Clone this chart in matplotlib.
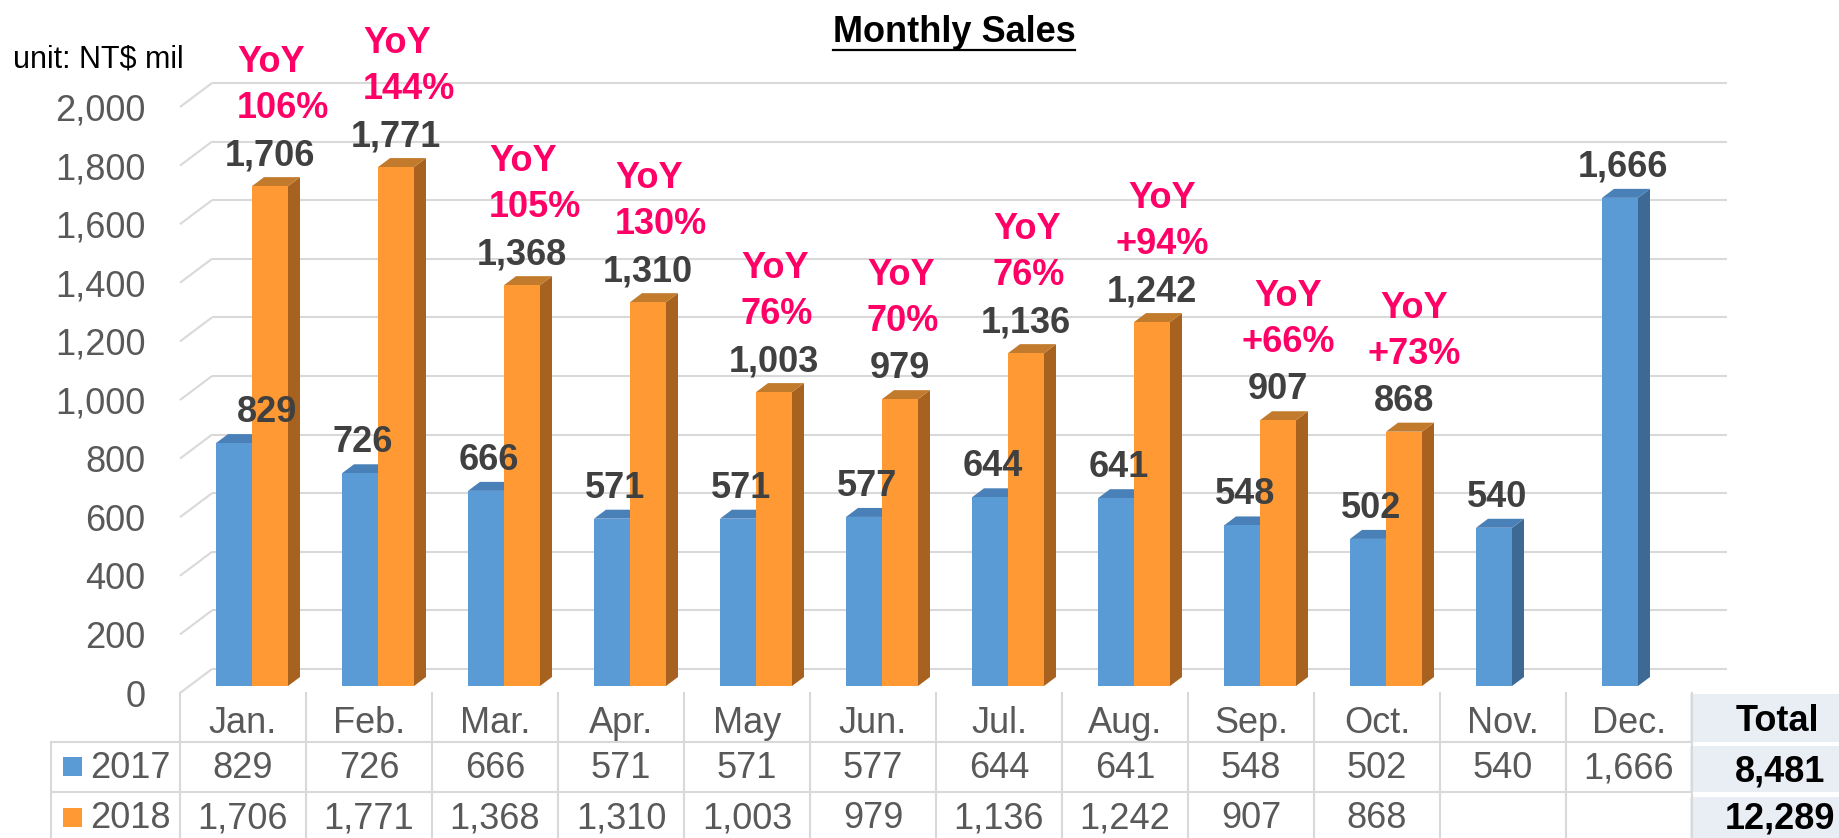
import matplotlib
matplotlib.use('Agg')
import matplotlib.pyplot as plt
import matplotlib.transforms as mtransforms
from matplotlib.patches import Polygon, Rectangle
from matplotlib.lines import Line2D
import numpy as np

plt.rcParams['font.family'] = ['Liberation Sans', 'DejaVu Sans']

# ---------------- data ----------------
months = ['Jan.', 'Feb.', 'Mar.', 'Apr.', 'May', 'Jun.', 'Jul.', 'Aug.', 'Sep.', 'Oct.', 'Nov.', 'Dec.']
sales_2017 = [829, 726, 666, 571, 571, 577, 644, 641, 548, 502, 540, 1666]
sales_2018 = [1706, 1771, 1368, 1310, 1003, 979, 1136, 1242, 907, 868, None, None]
yoy_labels = ['106%', '144%', '105%', '130%', '76%', '70%', '76%', '+94%', '+66%', '+73%', None, None]
series_names = ['2017', '2018']
totals = [8481, 12289]
yticks = list(range(0, 2001, 200))

# ---------------- style ----------------
BLUE = ('#5B9BD5', '#3C6A95', '#4A80B8')     # front, side, top
ORANGE = ('#FF9933', '#A8621F', '#C27A2C')
GRID = '#D9D9D9'
TXT = '#595959'
LBL = '#404040'
PINK = '#FF0066'
TOTAL_BG = '#E9EDF4'

W, H = 1840, 838
fig = plt.figure(figsize=(W / 100, H / 100), dpi=100)

AX_L, AX_R, AX_B, AX_T = 180, 1692, 693, 107
ax = fig.add_axes([AX_L / W, 1 - AX_B / H, (AX_R - AX_L) / W, (AX_B - AX_T) / H])
ax.set_xlim(-0.5, 11.5)
ax.set_ylim(0, 2000)
for s in ax.spines.values():
    s.set_visible(False)
ax.set_xticks([])
ax.set_yticks(yticks)
ax.set_yticklabels([f'{v:,}' for v in yticks])
ax.tick_params(axis='y', length=0, pad=25, labelsize=26, labelcolor=TXT)

px_x = (AX_R - AX_L) / 12.0
px_y = (AX_B - AX_T) / 2000.0
def dx(p):
    return p / px_x
def dy(p):
    return p / px_y

# back wall gridlines + side wall diagonals
DEPTH_X, DEPTH_Y = 32, 24
for v in yticks:
    ax.plot([-0.5, -0.5 + dx(DEPTH_X)], [v, v + dy(DEPTH_Y)], color=GRID, lw=1.5,
            clip_on=False, zorder=1, solid_capstyle='butt')
    ax.plot([-0.5 + dx(DEPTH_X), 11.5 + dx(DEPTH_X + 3)], [v + dy(DEPTH_Y)] * 2, color=GRID,
            lw=1.5, clip_on=False, zorder=1, solid_capstyle='butt')

# bars (3D look)
SHIFT_X, SHIFT_Y = 9, 7
tb = ax.transData + mtransforms.ScaledTranslation(SHIFT_X / 100, SHIFT_Y / 100, fig.dpi_scale_trans)
bw = dx(36)
SIDE_X, SIDE_Y = 12, 9

def draw_3d(xs, vals, colors, z):
    bars = ax.bar(xs, vals, width=bw, align='edge', color=colors[0], zorder=z + 0.2,
                  linewidth=0)
    for p, xl, v in zip(bars, xs, vals):
        p.set_transform(tb)
        p.set_clip_on(False)
        xr = xl + bw
        side = Polygon([(xr, 0), (xr + dx(SIDE_X), dy(SIDE_Y)), (xr + dx(SIDE_X), v + dy(SIDE_Y)), (xr, v)],
                       closed=True, facecolor=colors[1], edgecolor='none', transform=tb,
                       zorder=z, clip_on=False)
        top = Polygon([(xl, v), (xr, v), (xr + dx(SIDE_X), v + dy(SIDE_Y)), (xl + dx(SIDE_X), v + dy(SIDE_Y))],
                      closed=True, facecolor=colors[2], edgecolor='none', transform=tb,
                      zorder=z, clip_on=False)
        ax.add_patch(side)
        ax.add_patch(top)

x = np.arange(len(months))
idx17 = list(range(len(months)))
idx18 = [i for i, v in enumerate(sales_2018) if v is not None]
draw_3d([x[i] - bw for i in idx17], [sales_2017[i] for i in idx17], BLUE, 3)
draw_3d([x[i] for i in idx18], [sales_2018[i] for i in idx18], ORANGE, 4)

# value labels
for i in idx17:
    v = sales_2017[i]
    extra = 33 if i == 0 else 3
    ax.annotate(f'{v:,}', xy=(x[i] - bw / 2, v), xytext=(SHIFT_X + extra, SHIFT_Y + 21),
                textcoords='offset pixels', ha='center', va='baseline', fontsize=26,
                fontweight='bold', color=LBL, zorder=8, annotation_clip=False)
for i in idx18:
    v = sales_2018[i]
    ax.annotate(f'{v:,}', xy=(x[i] + bw / 2, v), xytext=(SHIFT_X, SHIFT_Y + 21),
                textcoords='offset pixels', ha='center', va='baseline', fontsize=26,
                fontweight='bold', color=LBL, zorder=8, annotation_clip=False)
    lab = yoy_labels[i]
    if lab is None:
        continue
    if lab.startswith('+'):
        ha, ox = 'center', SHIFT_X + 10
    else:
        ha, ox = 'left', SHIFT_X - 33
    ax.annotate(lab, xy=(x[i] + bw / 2, v), xytext=(ox, SHIFT_Y + 21 + 47),
                textcoords='offset pixels', ha=ha, va='baseline', fontsize=26,
                fontweight='bold', color=PINK, zorder=8, annotation_clip=False)
    ax.annotate('YoY', xy=(x[i] + bw / 2, v), xytext=(ox, SHIFT_Y + 21 + 93),
                textcoords='offset pixels', ha=ha, va='baseline', fontsize=26,
                fontweight='bold', color=PINK, zorder=8, annotation_clip=False)

# ---------------- data table ----------------
fig_px = mtransforms.Affine2D().scale(1 / W, -1 / H).translate(0, 1) + fig.transFigure
blend = mtransforms.blended_transform_factory(ax.transData, fig_px)

for i in range(len(months) + 1):
    fig.add_artist(Line2D([i - 0.5, i - 0.5], [693, 838], transform=blend, color=GRID, lw=1.5))
for yl in (742, 792):
    fig.add_artist(Line2D([51, 1690], [yl, yl], transform=fig_px, color=GRID, lw=1.5))
fig.add_artist(Line2D([51, 51], [742, 838], transform=fig_px, color=GRID, lw=1.5))

for i, m in enumerate(months):
    fig.text(i, 733, m, transform=blend, ha='center', va='baseline', fontsize=26, color=TXT)
    fig.text(i, 778, f'{sales_2017[i]:,}', transform=blend, ha='center', va='baseline',
             fontsize=26, color=TXT)
    if sales_2018[i] is not None:
        fig.text(i, 828, f'{sales_2018[i]:,}', transform=blend, ha='center', va='baseline',
                 fontsize=26, color=TXT)

# legend keys in table
for (ytop, base), col, name in zip([(757, 778), (808, 828)], [BLUE[0], ORANGE[0]], series_names):
    fig.add_artist(Rectangle((63, ytop), 19, 19, transform=fig_px, facecolor=col, edgecolor='none'))
    fig.text(90, base, name, transform=fig_px, ha='left', va='baseline', fontsize=26, color=TXT)

# Total column
for (y0, h) in [(694, 48), (746, 46), (797, 41)]:
    fig.add_artist(Rectangle((1690, y0), 150, h, transform=fig_px, facecolor=TOTAL_BG, edgecolor='none'))
fig.text(1777, 731, 'Total', transform=fig_px, ha='center', va='baseline', fontsize=26,
         fontweight='bold', color='black')
fig.text(1780, 781, f'{totals[0]:,}', transform=fig_px, ha='center', va='baseline', fontsize=26,
         fontweight='bold', color='black')
fig.text(1780, 828, f'{totals[1]:,}', transform=fig_px, ha='center', va='baseline', fontsize=26,
         fontweight='bold', color='black')

# title and unit
title = fig.text(954, 42, 'Monthly Sales', transform=fig_px, ha='center', va='baseline',
                 fontsize=26, fontweight='bold', color='black')
fig.text(13, 67, 'unit: NT$ mil', transform=fig_px, ha='left', va='baseline', fontsize=22,
         color='black')

fig.canvas.draw()
bb = title.get_window_extent()
fig.add_artist(Line2D([bb.x0, bb.x1], [H - 50, H - 50], transform=mtransforms.IdentityTransform(),
                      color='black', lw=1.6))

fig.savefig('out.png', dpi=100)
